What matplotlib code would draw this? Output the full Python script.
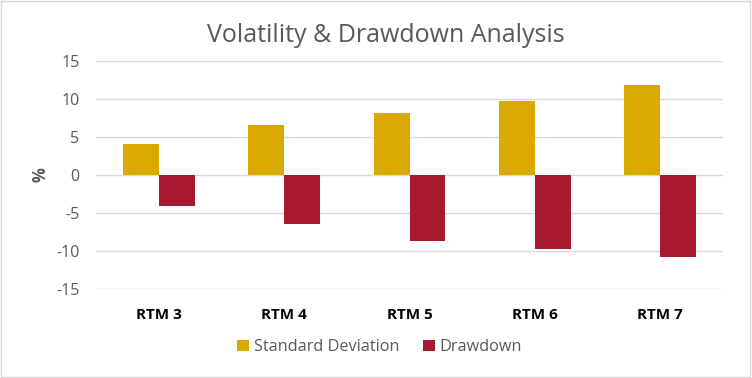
import matplotlib.pyplot as plt
import numpy as np
from matplotlib.patches import Rectangle

plt.rcParams['font.family'] = ['Open Sans', 'DejaVu Sans']
plt.rcParams['axes.unicode_minus'] = False

categories = ['RTM 3', 'RTM 4', 'RTM 5', 'RTM 6', 'RTM 7']
std_dev = [4.1, 6.6, 8.2, 9.8, 11.9]
drawdown = [-4.1, -6.5, -8.7, -9.7, -10.8]

gold = '#DAAA00'
red = '#A6192E'
grey = '#595959'

fig = plt.figure(figsize=(7.52, 3.78), dpi=100)
ax = fig.add_axes([0.1277, 0.2354, 0.8337, 0.6032])

x = np.arange(len(categories))
w = 0.287
ax.bar(x - w / 2, std_dev, w, color=gold, label='Standard Deviation', zorder=3)
ax.bar(x + w / 2, drawdown, w, color=red, label='Drawdown', zorder=3)

ax.set_xlim(-0.5, len(categories) - 0.5)
ax.set_ylim(-15, 15)
ax.set_yticks(np.arange(-15, 16, 5))
ax.set_xticks(x)
ax.set_xticklabels(categories, fontsize=11, fontweight='bold', color='black')
ax.tick_params(axis='y', labelsize=11.5, labelcolor=grey, length=0, pad=12)
ax.tick_params(axis='x', length=0, pad=13.5)
ax.grid(axis='y', color='#D9D9D9', linewidth=1, zorder=0)
for s in ax.spines.values():
    s.set_visible(False)

ax.set_ylabel('%', fontsize=12, fontweight='bold', color=grey, labelpad=5)

fig.text(0.513, 0.907, 'Volatility & Drawdown Analysis', ha='center', va='center',
         fontsize=18, color=grey)

fig.legend(loc='center', bbox_to_anchor=(0.505, 0.082), ncol=2, frameon=False,
           fontsize=11.7, labelcolor=grey, handlelength=0.7, handleheight=0.7,
           handletextpad=0.3, columnspacing=1.5)

# chart border
fig.patches.append(Rectangle((0.001, 0.002), 0.997, 0.995, transform=fig.transFigure,
                             fill=False, edgecolor='#D9D9D9', linewidth=1))

fig.savefig('out.png', dpi=100)
